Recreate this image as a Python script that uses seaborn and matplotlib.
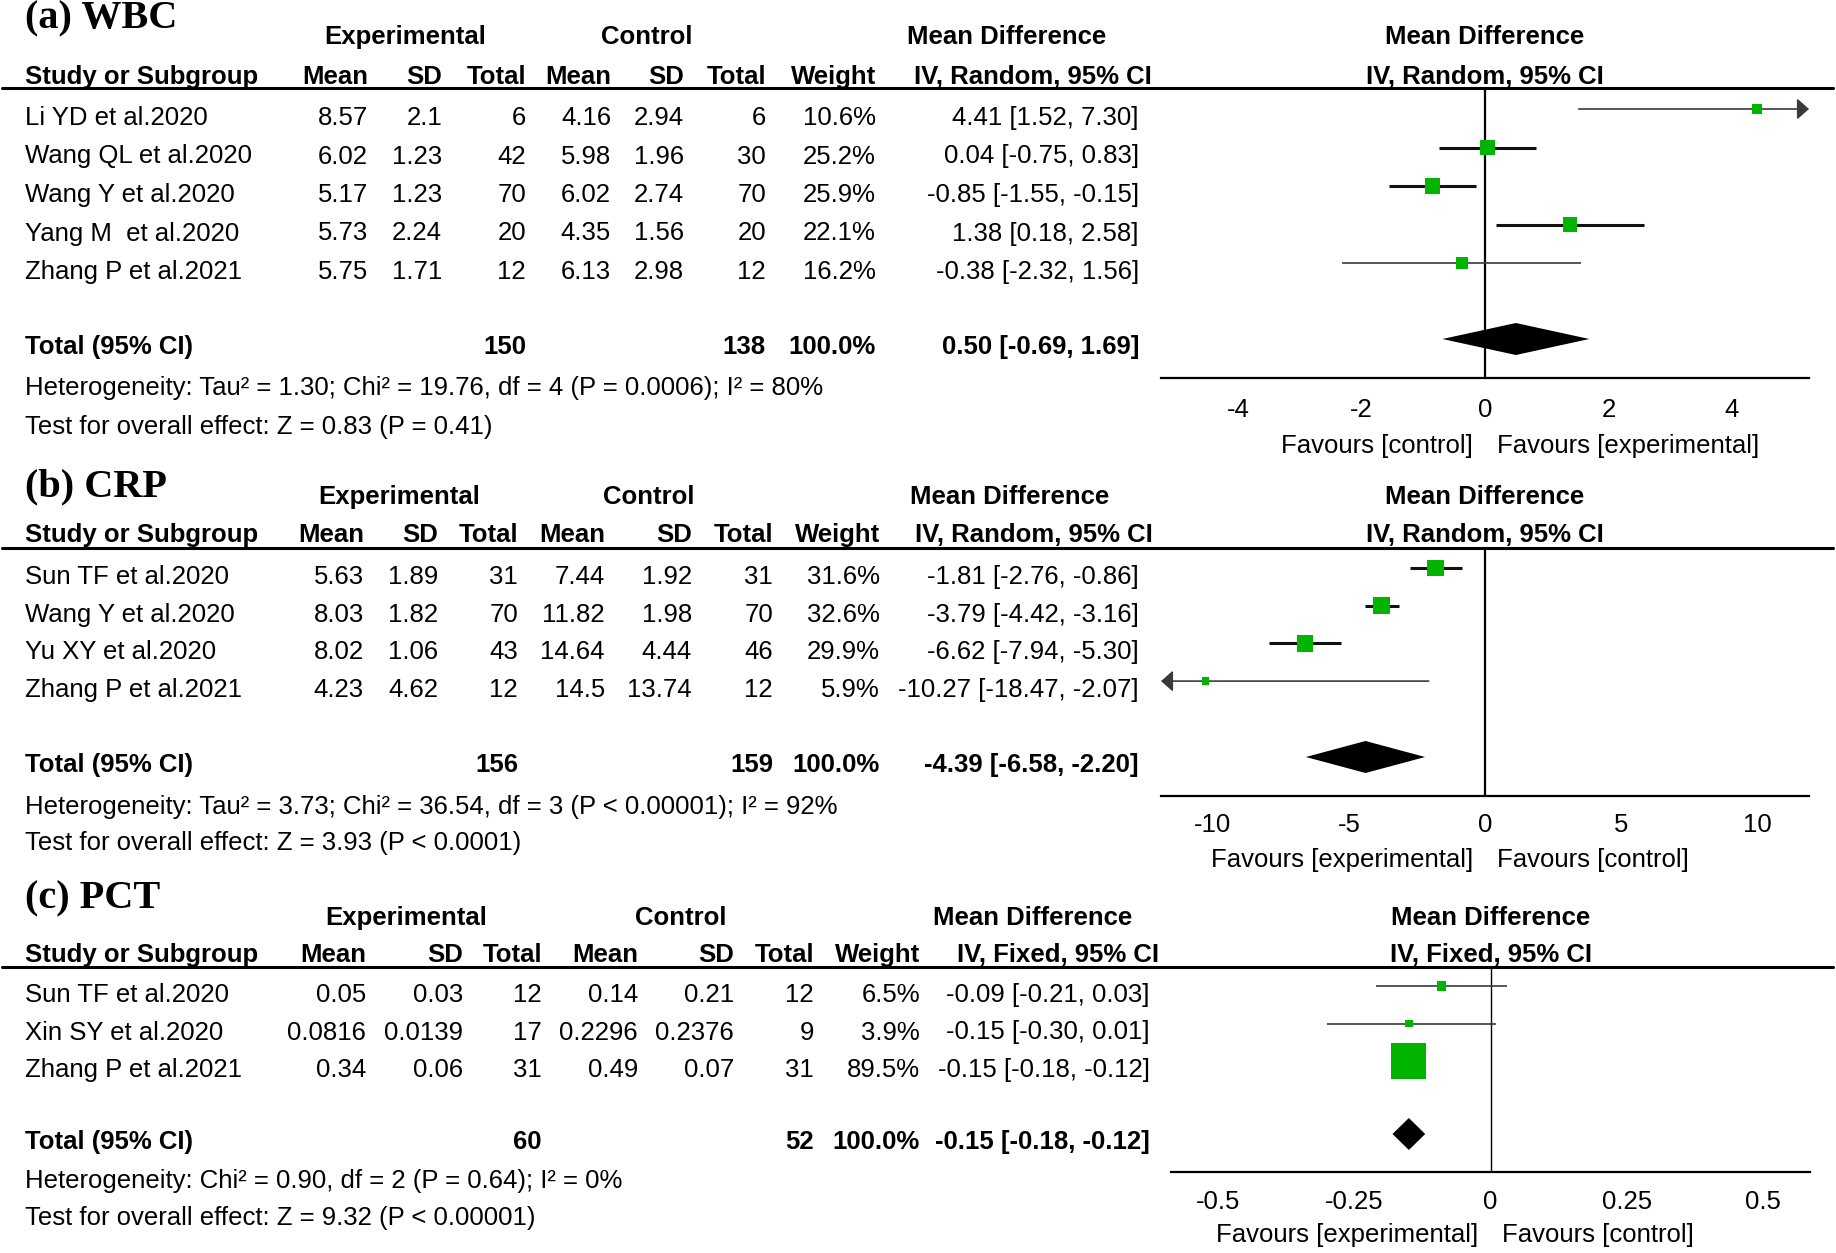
import matplotlib
matplotlib.use("Agg")
import matplotlib.pyplot as plt
from matplotlib.lines import Line2D
import numpy as np
import pandas as pd
import seaborn as sns

# ---- (a) WBC ----
wbc_study = ['Li YD et al.2020', 'Wang QL et al.2020', 'Wang Y et al.2020', 'Yang M  et al.2020', 'Zhang P et al.2021']
wbc_exp_mean = [8.57, 6.02, 5.17, 5.73, 5.75]
wbc_exp_sd = [2.1, 1.23, 1.23, 2.24, 1.71]
wbc_exp_n = [6, 42, 70, 20, 12]
wbc_ctl_mean = [4.16, 5.98, 6.02, 4.35, 6.13]
wbc_ctl_sd = [2.94, 1.96, 2.74, 1.56, 2.98]
wbc_ctl_n = [6, 30, 70, 20, 12]
wbc_weight = [10.6, 25.2, 25.9, 22.1, 16.2]
wbc_md = [4.41, 0.04, -0.85, 1.38, -0.38]
wbc_lo = [1.52, -0.75, -1.55, 0.18, -2.32]
wbc_hi = [7.30, 0.83, -0.15, 2.58, 1.56]
wbc_total = (150, 138, 0.50, -0.69, 1.69)
wbc_het = 'Heterogeneity: Tau² = 1.30; Chi² = 19.76, df = 4 (P = 0.0006); I² = 80%'
wbc_test = 'Test for overall effect: Z = 0.83 (P = 0.41)'
wbc_ticks = [-4, -2, 0, 2, 4]
wbc_ticklabels = ['-4', '-2', '0', '2', '4']

# ---- (b) CRP ----
crp_study = ['Sun TF et al.2020', 'Wang Y et al.2020', 'Yu XY et al.2020', 'Zhang P et al.2021']
crp_exp_mean = [5.63, 8.03, 8.02, 4.23]
crp_exp_sd = [1.89, 1.82, 1.06, 4.62]
crp_exp_n = [31, 70, 43, 12]
crp_ctl_mean = [7.44, 11.82, 14.64, 14.5]
crp_ctl_sd = [1.92, 1.98, 4.44, 13.74]
crp_ctl_n = [31, 70, 46, 12]
crp_weight = [31.6, 32.6, 29.9, 5.9]
crp_md = [-1.81, -3.79, -6.62, -10.27]
crp_lo = [-2.76, -4.42, -7.94, -18.47]
crp_hi = [-0.86, -3.16, -5.30, -2.07]
crp_total = (156, 159, -4.39, -6.58, -2.20)
crp_het = 'Heterogeneity: Tau² = 3.73; Chi² = 36.54, df = 3 (P < 0.00001); I² = 92%'
crp_test = 'Test for overall effect: Z = 3.93 (P < 0.0001)'
crp_ticks = [-10, -5, 0, 5, 10]
crp_ticklabels = ['-10', '-5', '0', '5', '10']

# ---- (c) PCT ----
pct_study = ['Sun TF et al.2020', 'Xin SY et al.2020', 'Zhang P et al.2021']
pct_exp_mean = [0.05, 0.0816, 0.34]
pct_exp_sd = [0.03, 0.0139, 0.06]
pct_exp_n = [12, 17, 31]
pct_ctl_mean = [0.14, 0.2296, 0.49]
pct_ctl_sd = [0.21, 0.2376, 0.07]
pct_ctl_n = [12, 9, 31]
pct_weight = [6.5, 3.9, 89.5]
pct_md = [-0.09, -0.15, -0.15]
pct_lo = [-0.21, -0.30, -0.18]
pct_hi = [0.03, 0.01, -0.12]
pct_total = (60, 52, -0.15, -0.18, -0.12)
pct_het = 'Heterogeneity: Chi² = 0.90, df = 2 (P = 0.64); I² = 0%'
pct_test = 'Test for overall effect: Z = 9.32 (P < 0.00001)'
pct_ticks = [-0.5, -0.25, 0, 0.25, 0.5]
pct_ticklabels = ['-0.5', '-0.25', '0', '0.25', '0.5']

W, H = 1836, 1253
FS = 18.5
GREEN = '#00b400'

sns.set_style('white')
plt.rcParams['font.family'] = ['Liberation Sans', 'DejaVu Sans']

fig = plt.figure(figsize=(W / 100, H / 100), dpi=100)


def put(x, y, s, ha='left', bold=False, size=FS, family=None):
    kw = {} if family is None else {'family': family}
    fig.text(x / W, 1 - y / H, s, ha=ha, va='center', fontsize=size,
             fontweight='bold' if bold else 'normal', color='black', **kw)


def fmt(v):
    return f'{v:g}'


def panel(title, df, tot, het, test, method, ticks, ticklabels, xmax,
          fav_left, fav_right, lay):
    # title + headers
    put(25, lay['title_y'], title, bold=True, size=29, family='Liberation Serif')
    cols = lay['cols']
    put(lay['exp_c'], lay['grp_y'], 'Experimental', ha='center', bold=True)
    put(lay['ctl_c'], lay['grp_y'], 'Control', ha='center', bold=True)
    put(lay['md_c'], lay['grp_y'], 'Mean Difference', ha='center', bold=True)
    put(25, lay['hdr_y'], 'Study or Subgroup', bold=True)
    for x, s in zip(cols[:7], ['Mean', 'SD', 'Total', 'Mean', 'SD', 'Total', 'Weight']):
        put(x, lay['hdr_y'], s, ha='right', bold=True)
    put(lay['ci_hdr'], lay['hdr_y'], method, ha='right', bold=True)
    fig.add_artist(Line2D([2 / W, 1833 / W], [1 - lay['rule_y'] / H] * 2,
                          color='black', lw=2.2))

    # study rows
    df = df.copy()
    df['ty'] = lay['row0'] + np.arange(len(df)) * lay['step']
    for _, r in df.iterrows():
        put(25, r.ty, r.study)
        vals = [fmt(r.exp_mean), fmt(r.exp_sd), str(int(r.exp_n)),
                fmt(r.ctl_mean), fmt(r.ctl_sd), str(int(r.ctl_n)),
                f'{r.weight:.1f}%', f'{r.md:.2f} [{r.lo:.2f}, {r.hi:.2f}]']
        for x, v in zip(cols, vals):
            put(x, r.ty, v, ha='right')

    # total row
    ty = lay['total_y']
    put(25, ty, 'Total (95% CI)', bold=True)
    put(cols[2], ty, str(tot[0]), ha='right', bold=True)
    put(cols[5], ty, str(tot[1]), ha='right', bold=True)
    put(cols[6], ty, '100.0%', ha='right', bold=True)
    put(cols[7], ty, f'{tot[2]:.2f} [{tot[3]:.2f}, {tot[4]:.2f}]', ha='right', bold=True)
    put(25, lay['het_y'], het)
    put(25, lay['test_y'], test)

    # forest plot
    x0, x1 = lay['x0'], lay['x1']
    ax = fig.add_axes([x0 / W, 1 - lay['axis_y'] / H, (x1 - x0) / W,
                       (lay['axis_y'] - lay['rule_y']) / H])
    ax.set_facecolor('none')
    ax.set_xlim(-xmax, xmax)
    ax.set_ylim(lay['axis_y'], lay['rule_y'])
    ax.axvline(0, color='black', lw=lay['zero_lw'], zorder=1)

    df['y'] = df['ty'] - 9
    for _, r in df.iterrows():
        thick = r.weight > 20
        lw = 2.2 if thick else 1.2
        col = '#111111' if thick else '#3a3a3a'
        lo, hi = max(r.lo, -xmax), min(r.hi, xmax)
        if r.hi > xmax or r.lo < -xmax:
            start, end = (lo, hi) if r.hi > xmax else (hi, lo)
            ax.annotate('', xy=(end, r.y), xytext=(start, r.y), annotation_clip=False,
                        arrowprops=dict(arrowstyle='-|>,head_length=0.45,head_width=0.4',
                                        mutation_scale=16, lw=lw, color=col,
                                        shrinkA=0, shrinkB=0))
        else:
            ax.hlines(r.y, lo, hi, color=col, lw=lw, zorder=2)

    smax = 51.84 * lay['k'] ** 2
    sns.scatterplot(data=df, x='md', y='y', size='weight', sizes=(0, smax),
                    size_norm=(0, 100), marker='s', color=GREEN, linewidth=0,
                    legend=False, ax=ax, zorder=3)

    dy = lay['total_y'] - 8
    ax.fill([tot[3], tot[2], tot[4], tot[2]], [dy, dy - 16, dy, dy + 16],
            color='black', lw=0, zorder=3)

    for s in ['top', 'right', 'left']:
        ax.spines[s].set_visible(False)
    ax.spines['bottom'].set_linewidth(1.6)
    ax.spines['bottom'].set_color('black')
    ax.set_yticks([])
    ax.set_xticks(ticks)
    ax.set_xticklabels(ticklabels)
    ax.tick_params(axis='x', direction='inout', length=12.5, width=1.6, pad=lay['pad'],
                   labelsize=FS, colors='black')
    ax.set_xlabel('')
    ax.set_ylabel('')

    zc = (x0 + x1) / 2
    put(zc, lay['grp_y'], 'Mean Difference', ha='center', bold=True)
    put(zc, lay['hdr_y'], method, ha='center', bold=True)
    put(zc - 12, lay['fav_y'], fav_left, ha='right')
    put(zc + 12, lay['fav_y'], fav_right)


def frame(study, em, es, en, cm, cs, cn, w, md, lo, hi):
    return pd.DataFrame({'study': study, 'exp_mean': em, 'exp_sd': es, 'exp_n': en,
                         'ctl_mean': cm, 'ctl_sd': cs, 'ctl_n': cn, 'weight': w,
                         'md': md, 'lo': lo, 'hi': hi})


lay_a = dict(title_y=19, grp_y=37, hdr_y=77, rule_y=88, row0=118, step=38.5,
             total_y=347, het_y=388, test_y=427, axis_y=378, fav_y=446, pad=8.5,
             x0=1161, x1=1809, cols=[368, 442, 526, 611, 684, 766, 876, 1139],
             ci_hdr=1152, exp_c=405, ctl_c=647, md_c=1007, k=3.0, zero_lw=1.6)
lay_b = dict(title_y=487, grp_y=497, hdr_y=535, rule_y=548, row0=577, step=37.7,
             total_y=765, het_y=807, test_y=843, axis_y=796, fav_y=860, pad=6,
             x0=1161, x1=1809, cols=[364, 438, 518, 605, 692, 773, 880, 1139],
             ci_hdr=1153, exp_c=399, ctl_c=649, md_c=1010, k=3.0, zero_lw=1.6)
lay_c = dict(title_y=899, grp_y=918, hdr_y=955, rule_y=967, row0=995, step=37.5,
             total_y=1142, het_y=1181, test_y=1218, axis_y=1172, fav_y=1235, pad=7,
             x0=1171, x1=1810, cols=[366, 463, 542, 638, 734, 814, 920, 1150],
             ci_hdr=1159, exp_c=406, ctl_c=681, md_c=1033, k=3.7, zero_lw=1.0)

panel('(a) WBC',
      frame(wbc_study, wbc_exp_mean, wbc_exp_sd, wbc_exp_n, wbc_ctl_mean, wbc_ctl_sd,
            wbc_ctl_n, wbc_weight, wbc_md, wbc_lo, wbc_hi),
      wbc_total, wbc_het, wbc_test, 'IV, Random, 95% CI', wbc_ticks, wbc_ticklabels,
      5.25, 'Favours [control]', 'Favours [experimental]', lay_a)
panel('(b) CRP',
      frame(crp_study, crp_exp_mean, crp_exp_sd, crp_exp_n, crp_ctl_mean, crp_ctl_sd,
            crp_ctl_n, crp_weight, crp_md, crp_lo, crp_hi),
      crp_total, crp_het, crp_test, 'IV, Random, 95% CI', crp_ticks, crp_ticklabels,
      11.9, 'Favours [experimental]', 'Favours [control]', lay_b)
panel('(c) PCT',
      frame(pct_study, pct_exp_mean, pct_exp_sd, pct_exp_n, pct_ctl_mean, pct_ctl_sd,
            pct_ctl_n, pct_weight, pct_md, pct_lo, pct_hi),
      pct_total, pct_het, pct_test, 'IV, Fixed, 95% CI', pct_ticks, pct_ticklabels,
      0.587, 'Favours [experimental]', 'Favours [control]', lay_c)

fig.savefig('out.png', dpi=100, facecolor='white')
